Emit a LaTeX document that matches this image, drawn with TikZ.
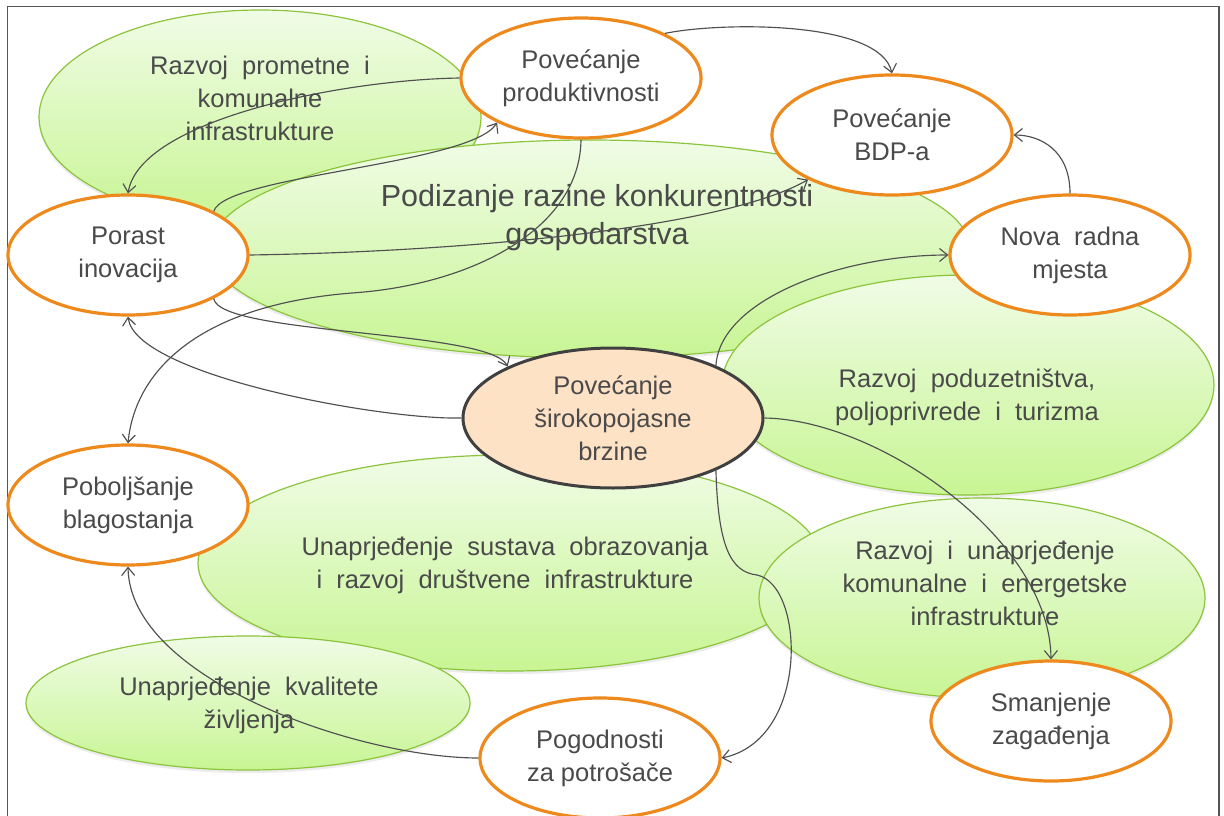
\documentclass[tikz,border=0pt]{standalone}
\usepackage{fontspec}
\setmainfont{Liberation Sans}
\usetikzlibrary{shapes.geometric,arrows.meta,shadows}
\definecolor{txt}{HTML}{4A4A4A}
\definecolor{orng}{HTML}{EE8A1D}
\definecolor{gbord}{HTML}{8CC43C}
\definecolor{gtop}{HTML}{F0FCE6}
\definecolor{gbot}{HTML}{C8F594}
\definecolor{peach}{HTML}{FDE2C6}
\definecolor{cbord}{HTML}{404040}
\definecolor{arrc}{HTML}{505050}
\definecolor{frame}{HTML}{555555}
\begin{document}
\begin{tikzpicture}[x=1pt,y=-1pt,
  every node/.style={font=\fontsize{25.5}{33}\selectfont, text=txt, align=center},
  gell/.style={ellipse, draw=gbord, line width=1.2pt, top color=gtop, bottom color=gbot, inner sep=0pt,
     drop shadow={opacity=0.15, shadow xshift=0pt, shadow yshift=-3pt}},
  onode/.style={ellipse, draw=orng, line width=3.2pt, fill=white, minimum width=240pt, minimum height=120pt, inner sep=0pt},
  cnode/.style={ellipse, draw=cbord, line width=3pt, fill=peach, minimum width=300pt, minimum height=140pt, inner sep=0pt},
  lbl/.style={inner sep=0pt},
  arr/.style={draw=arrc, line width=1.15pt, -{Straight Barb[length=8pt,width=13pt]}}
]
\useasboundingbox (0,0) rectangle (1224,816);
\clip (0,0) rectangle (1224,816);
\fill[white] (0,0) rectangle (1224,816);
\draw[line width=1.3pt, draw=frame] (7.5,6.5) rectangle (1219,840);

% green ellipses
\node[gell, minimum width=442pt, minimum height=214pt] (g1) at (260,117) {};
\node[lbl] (t1) at (260,98) {Razvoj\ \ prometne\ \ i\\komunalne\\infrastrukture};
\node[gell, minimum width=760pt, minimum height=218pt] (g2) at (590,249) {};
\node[lbl, font=\fontsize{30.5}{38}\selectfont] (t2) at (597,218) {Podizanje razine konkurentnosti\\gospodarstva};
\node[gell, minimum width=492pt, minimum height=220pt] (g3) at (968,385) {};
\node[lbl] (t3) at (967,397) {Razvoj\ \ poduzetništva,\\poljoprivrede\ \ i\ \ turizma};
\node[gell, minimum width=624pt, minimum height=216pt] (g4) at (510,563) {};
\node[lbl] (t4) at (505,565) {Unaprjeđenje\ \ sustava\ \ obrazovanja\\i\ \ razvoj\ \ društvene\ \ infrastrukture};
\node[gell, minimum width=446pt, minimum height=200pt] (g5) at (982,598) {};
\node[lbl] (t5) at (985,583) {Razvoj\ \ i\ \ unaprjeđenje\\komunalne\ \ i\ \ energetske\\infrastrukture};
\node[gell, minimum width=444pt, minimum height=134pt] (g6) at (248,703) {};
\node[lbl] (t6) at (249,705) {Unaprjeđenje\ \ kvalitete\\življenja};

% orange nodes
\node[onode] (o1) at (581,78) {Povećanje\\produktivnosti};
\node[onode] (o2) at (892,135) {Povećanje\\BDP-a};
\node[onode] (o3) at (128,255) {Porast\\inovacija};
\node[onode] (o4) at (1070,255) {Nova\ \ radna\\mjesta};
\node[onode] (o5) at (128,505) {Poboljšanje\\blagostanja};
\node[onode] (o6) at (600,758) {Pogodnosti\\za potrošače};
\node[onode] (o7) at (1051,721) {Smanjenje\\zagađenja};
\node[cnode] (c) at (613,418) {Povećanje\\širokopojasne\\brzine};

\coordinate (k1) at (757,575);
\coordinate (k2) at (352,293);

% connectors
\draw[arr] (o1.west) .. controls (340,80) and (140,120) .. (o3.north);
\draw[arr] (o3.27) .. controls (225,175) and (470,165) .. (o1.208);
\draw[arr] (o3.east) .. controls (450,252) and (720,230) .. (o2.208);
\draw[arr] (o1.south) .. controls (580,230) and (470,285) .. (k2) .. controls (200,305) and (135,370) .. (o5.north);
\draw[arr] (o3.333) .. controls (220,335) and (490,330) .. (c.154);
\draw[arr] (c.west) .. controls (380,420) and (135,375) .. (o3.south);
\draw[arr] (o1.28) .. controls (720,22) and (880,20) .. (o2.north);
\draw[arr] (o4.north) .. controls (1070,150) and (1040,135) .. (o2.east);
\draw[arr] (c.27) .. controls (720,300) and (840,255) .. (o4.west);
\draw[arr] (c.east) .. controls (880,420) and (1050,540) .. (o7.north);
\draw[arr] (c.333) .. controls (718,545) and (730,572) .. (k1) .. controls (805,585) and (810,740) .. (o6.east);
\draw[arr] (o6.west) .. controls (360,758) and (130,680) .. (o5.south);
\end{tikzpicture}
\end{document}
